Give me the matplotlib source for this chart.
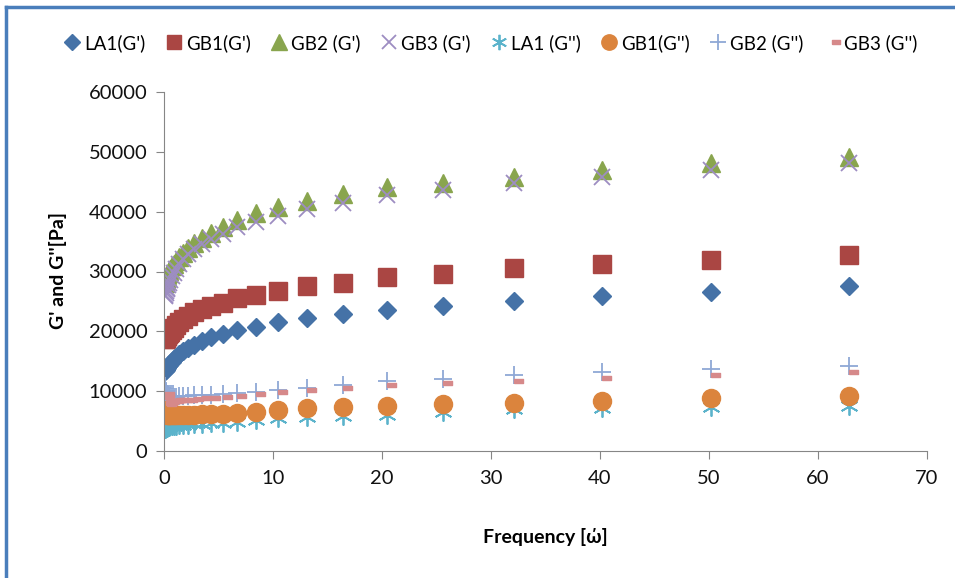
import matplotlib
matplotlib.use("Agg")
import matplotlib.pyplot as plt
from matplotlib.lines import Line2D

plt.rcParams['font.family'] = ['Lato', 'DejaVu Sans']

# frequency points [rad/s]
freq = [0.1, 0.12, 0.15, 0.19, 0.24, 0.3, 0.37, 0.46, 0.58, 0.72, 0.9, 1.13,
        1.41, 1.77, 2.2, 2.76, 3.45, 4.3, 5.4, 6.7, 8.4, 10.5, 13.1, 16.4,
        20.5, 25.6, 32.1, 40.2, 50.2, 62.8]

la1_g1 = [13400, 13500, 13600, 13700, 13850, 14000, 14200, 14400, 14650, 14950,
          15300, 15700, 16200, 16710, 17210, 17710, 18380, 19050, 19550, 20220,
          20720, 21560, 22220, 22890, 23560, 24280, 25070, 25900, 26620, 27570]
gb1_g1 = [18700, 18800, 18900, 19000, 19150, 19300, 19500, 19700, 19950, 20250,
          20600, 21060, 21560, 22060, 22560, 23230, 23730, 24230, 24730, 25570,
          26070, 26740, 27570, 28070, 29080, 29580, 30530, 31200, 31920, 32750]
gb2_g1 = [28000, 28300, 28600, 28900, 29200, 29500, 29800, 30100, 30500, 30900,
          31300, 31800, 32400, 33100, 33900, 34700, 35600, 36500, 37430, 38600,
          39770, 40770, 41780, 42940, 44100, 44780, 45840, 46960, 48070, 49130]
gb3_g1 = [25900, 26100, 26400, 26700, 27000, 27300, 27700, 28100, 28600, 29200,
          29800, 30500, 31300, 32100, 32920, 33750, 34590, 35430, 36260, 37430,
          38270, 39270, 40440, 41440, 42780, 43610, 44780, 45790, 46960, 48100]
la1_g2 = [3700, 3750, 3800, 3850, 3900, 3950, 4000, 4050, 4100, 4150,
          4200, 4250, 4300, 4350, 4400, 4450, 4550, 4650, 4750, 4900,
          5150, 5450, 5600, 5800, 6000, 6550, 6950, 7150, 7300, 7600]
gb1_g2 = [6800, 6600, 6400, 6250, 6150, 6050, 6000, 5950, 5950, 5950,
          5950, 5980, 6000, 6020, 6050, 6080, 6120, 6180, 6250, 6350,
          6570, 6850, 7130, 7300, 7450, 7850, 8070, 8410, 8800, 9190]
gb2_g2 = [10900, 10500, 10100, 9800, 9600, 9400, 9300, 9200, 9150, 9100,
          9100, 9100, 9150, 9200, 9250, 9300, 9350, 9400, 9500, 9650,
          9900, 10250, 10600, 11000, 11700, 12100, 12700, 13150, 13700, 14250]
gb3_g2 = [9600, 9000, 8400, 8000, 7900, 8000, 8100, 8200, 8300, 8350,
          8400, 8450, 8500, 8550, 8600, 8700, 8800, 8900, 9050, 9250,
          9500, 9800, 10200, 10500, 11000, 11300, 11650, 12250, 12650, 13150]

# Excel style dash marker, drawn to the right of the point
dash = [(0, -0.2), (1, -0.2), (1, 0.2), (0, 0.2), (0, -0.2)]

fig = plt.figure(figsize=(9.55, 5.78), dpi=100)
ax = fig.add_axes([164 / 955, 1 - 451 / 578, (927 - 164) / 955, (451 - 92) / 578])

ax.plot(freq, la1_g1, ls='none', marker='D', ms=9, color='#4572A7', mec='#4572A7',
        label="LA1(G')")
ax.plot(freq, gb1_g1, ls='none', marker='s', ms=12.5, color='#AA4643', mec='#AA4643',
        label="GB1(G')")
ax.plot(freq, gb2_g1, ls='none', marker='^', ms=13, color='#89A54E', mec='#89A54E',
        label="GB2 (G')")
ax.plot(freq, gb3_g1, ls='none', marker='x', ms=12, color='#9D8DC2', mew=1.3,
        label="GB3 (G')")
ax.plot(freq, la1_g2, ls='none', marker=(6, 2, 0), ms=13, color='#5BB3CB', mew=1.3,
        label="LA1 (G'')")
ax.plot(freq, gb1_g2, ls='none', marker='o', ms=13, color='#DB843D', mec='#DB843D',
        label="GB1(G'')")
ax.plot(freq, gb2_g2, ls='none', marker='+', ms=13, color='#8FA8D6', mew=1.3,
        label="GB2 (G'')")
ax.plot(freq, gb3_g2, ls='none', marker=dash, ms=13, color='#D6898A', mec='#D6898A',
        label="GB3 (G'')")

ax.set_xlim(0, 70)
ax.set_ylim(0, 60000)
ax.set_xticks(range(0, 71, 10))
ax.set_yticks(range(0, 60001, 10000))
for s in ['top', 'right']:
    ax.spines[s].set_visible(False)
for s in ['left', 'bottom']:
    ax.spines[s].set_color('#868686')
ax.tick_params(axis='both', colors='#868686', labelcolor='#111111', labelsize=14.5,
               length=6, direction='out')
ax.tick_params(axis='y', pad=6)
ax.tick_params(axis='x', pad=8)

fig.text(58 / 955, 1 - 270 / 578, "G' and G''[Pa]", rotation=90, ha='center',
         va='center', fontsize=14, fontweight='bold')
fig.text(545 / 955, 1 - 537 / 578, "Frequency [ώ]", ha='center', va='center',
         fontsize=14, fontweight='bold')

fig.legend(loc='center', bbox_to_anchor=(491 / 955, 1 - 43 / 578), ncol=8,
           frameon=False, fontsize=13.5, handlelength=0.8, handletextpad=0.25,
           columnspacing=1.1, borderaxespad=0, markerscale=0.85)

# blue chart frame (top and left)
fig.add_artist(Line2D([6 / 955, 1], [1 - 7 / 578, 1 - 7 / 578], color='#4A7EBB', lw=2.5,
                      transform=fig.transFigure))
fig.add_artist(Line2D([6 / 955, 6 / 955], [0, 1 - 7 / 578], color='#4A7EBB', lw=2.5,
                      transform=fig.transFigure))

fig.savefig('out.png', dpi=100)
